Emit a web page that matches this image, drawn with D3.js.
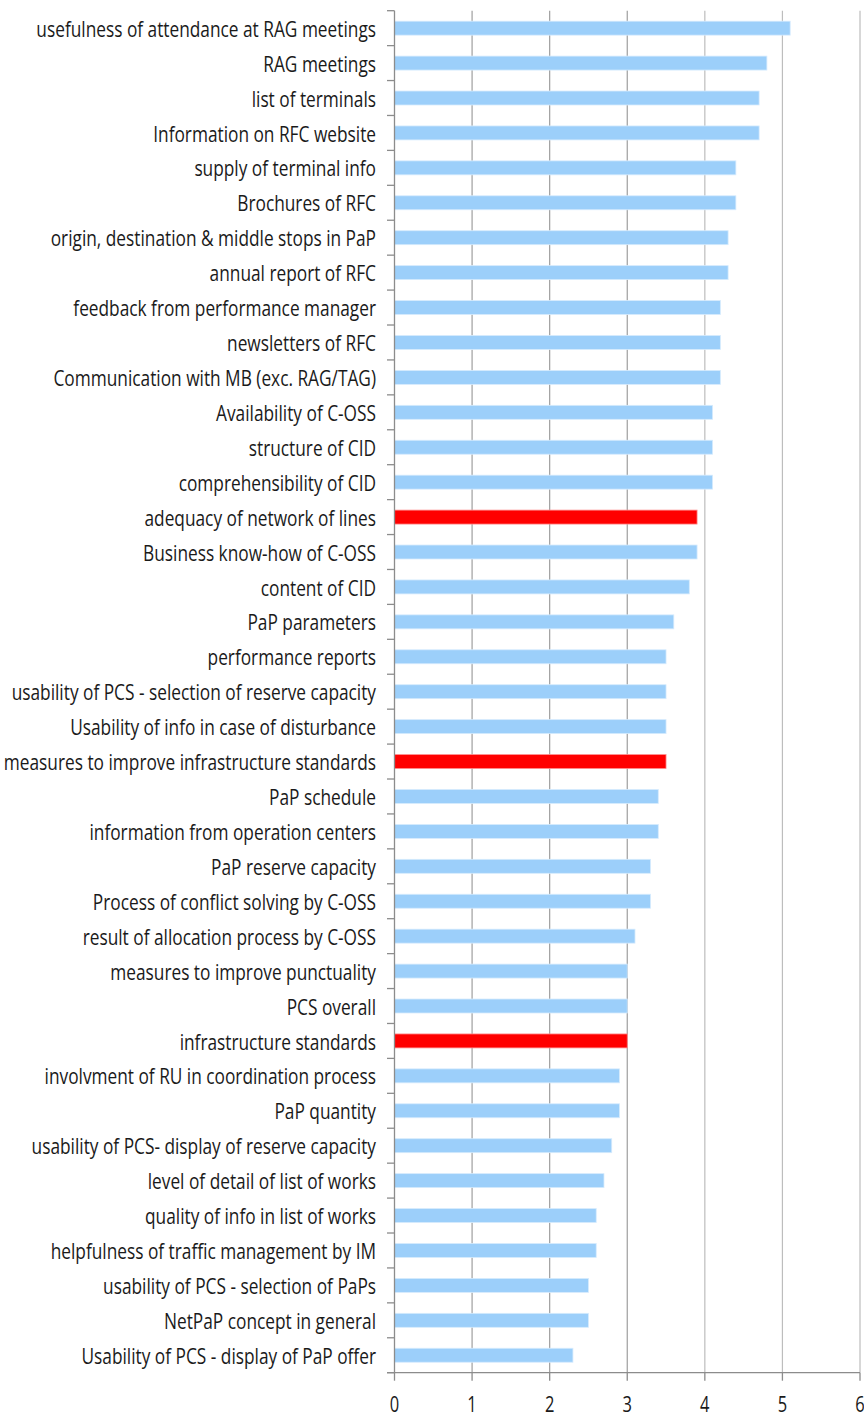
<!DOCTYPE html>
<html>
<head>
<meta charset="utf-8">
<script src="https://cdn.jsdelivr.net/npm/d3@7"></script>
<style>
  body { margin: 0; background: #fff; }
  text { font-family: "Open Sans", "Noto Sans", sans-serif; fill: #1a1a1a; }
</style>
</head>
<body>
<svg id="chart" width="864" height="1417"></svg>
<script>
// categories, top to bottom
const categories = [
  "usefulness of attendance at RAG meetings",
  "RAG meetings",
  "list of terminals",
  "Information on RFC website",
  "supply of terminal info",
  "Brochures of RFC",
  "origin, destination & middle stops in PaP",
  "annual report of RFC",
  "feedback from performance manager",
  "newsletters of RFC",
  "Communication with MB (exc. RAG/TAG)",
  "Availability of C-OSS",
  "structure of CID",
  "comprehensibility of CID",
  "adequacy of network of lines",
  "Business know-how of C-OSS",
  "content of CID",
  "PaP parameters",
  "performance reports",
  "usability of PCS - selection of reserve capacity",
  "Usability of info in case of disturbance",
  "measures to improve infrastructure standards",
  "PaP schedule",
  "information from operation centers",
  "PaP reserve capacity",
  "Process of conflict solving by C-OSS",
  "result of allocation process by C-OSS",
  "measures to improve punctuality",
  "PCS overall",
  "infrastructure standards",
  "involvment of RU in coordination process",
  "PaP quantity",
  "usability of PCS- display of reserve capacity",
  "level of detail of list of works",
  "quality of info in list of works",
  "helpfulness of traffic management by IM",
  "usability of PCS - selection of PaPs",
  "NetPaP concept in general",
  "Usability of PCS - display of PaP offer"
];

const scores = [
  5.1, 4.8, 4.7, 4.7, 4.4, 4.4, 4.3, 4.3, 4.2, 4.2,
  4.2, 4.1, 4.1, 4.1, 3.9, 3.9, 3.8, 3.6, 3.5, 3.5,
  3.5, 3.5, 3.4, 3.4, 3.3, 3.3, 3.1, 3.0, 3.0, 3.0,
  2.9, 2.9, 2.8, 2.7, 2.6, 2.6, 2.5, 2.5, 2.3
];

// highlighted items (red)
const highlighted = [
  "adequacy of network of lines",
  "measures to improve infrastructure standards",
  "infrastructure standards"
];

const xTicks = [0, 1, 2, 3, 4, 5, 6];

const data = categories.map((c, i) => ({name: c, value: scores[i]}));

const svg = d3.select("#chart");
const plotLeft = 394.5, plotRight = 860, plotTop = 10.7, plotBottom = 1372.7;

const x = d3.scaleLinear().domain([0, 6]).range([plotLeft, plotRight]);
const y = d3.scaleBand().domain(categories).range([plotTop, plotBottom])
  .paddingInner(0.6).paddingOuter(0.3);
const step = y.step();

// gridlines
svg.append("g")
  .selectAll("line")
  .data(xTicks.slice(1))
  .enter()
  .append("line")
  .attr("x1", d => x(d)).attr("x2", d => x(d))
  .attr("y1", plotTop).attr("y2", plotBottom)
  .attr("stroke", d => d >= 4 ? "#bdbdbd" : "#9e9e9e")
  .attr("stroke-width", 1.2);

// bars
svg.append("g")
  .selectAll("rect")
  .data(data)
  .enter()
  .append("rect")
  .attr("x", x(0))
  .attr("y", d => y(d.name))
  .attr("width", d => x(d.value) - x(0))
  .attr("height", y.bandwidth())
  .attr("fill", d => highlighted.includes(d.name) ? "#ff0000" : "#9ccffa")
  .attr("stroke", d => highlighted.includes(d.name) ? "#ff9090" : "#d6ebfd")
  .attr("stroke-width", 0.8);

// left axis line + ticks at band boundaries
const axisColor = "#8c8c8c";
svg.append("line")
  .attr("x1", plotLeft).attr("x2", plotLeft)
  .attr("y1", plotTop).attr("y2", plotBottom)
  .attr("stroke", axisColor).attr("stroke-width", 1.3);

const boundaries = d3.range(categories.length + 1).map(i => plotTop + i * step);
svg.append("g")
  .selectAll("line")
  .data(boundaries)
  .enter()
  .append("line")
  .attr("x1", plotLeft - 7.5).attr("x2", plotLeft)
  .attr("y1", d => d).attr("y2", d => d)
  .attr("stroke", axisColor).attr("stroke-width", 1.3);

// bottom axis
svg.append("line")
  .attr("x1", plotLeft - 7.5).attr("x2", plotRight)
  .attr("y1", plotBottom).attr("y2", plotBottom)
  .attr("stroke", axisColor).attr("stroke-width", 1.3);

svg.append("g")
  .selectAll("line")
  .data(xTicks)
  .enter()
  .append("line")
  .attr("x1", d => x(d)).attr("x2", d => x(d))
  .attr("y1", plotBottom).attr("y2", plotBottom + 8)
  .attr("stroke", axisColor).attr("stroke-width", 1.3);

// category labels, squeezed horizontally to a Calibri-like width
const labels = svg.append("g");
labels.selectAll("text")
  .data(data)
  .enter()
  .append("text")
  .attr("x", 0)
  .attr("y", 0)
  .attr("text-anchor", "end")
  .attr("font-size", 22)
  .text(d => d.name);

// the first label spans x = 36..376 in the reference
const firstWidth = labels.select("text").node().getComputedTextLength();
const sx = 340 / firstWidth;
labels.selectAll("text")
  .attr("transform", d => `translate(376,${y(d.name) + y.bandwidth() / 2 + 8.6}) scale(${sx},1)`);

// x tick labels
svg.append("g")
  .selectAll("text")
  .data(xTicks)
  .enter()
  .append("text")
  .attr("text-anchor", "middle")
  .attr("font-size", 21)
  .attr("transform", d => `translate(${x(d)},1412) scale(${sx},1)`)
  .text(d => d);
</script>
</body>
</html>
